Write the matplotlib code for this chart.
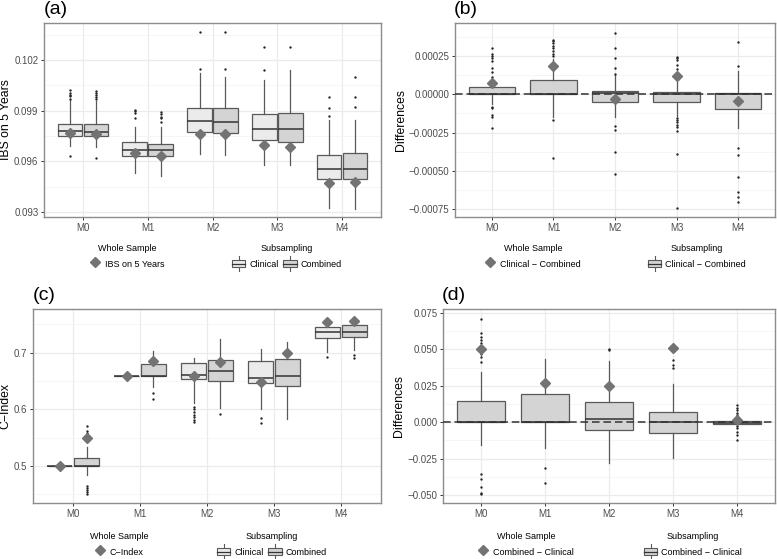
import numpy as np
import matplotlib
matplotlib.use('Agg')
import matplotlib.pyplot as plt
from matplotlib.lines import Line2D
from matplotlib.patches import Rectangle, Patch
from matplotlib.legend_handler import HandlerBase
from matplotlib.ticker import FuncFormatter, MultipleLocator

plt.rcParams['font.family'] = ['Liberation Sans', 'DejaVu Sans']

MODELS = ['M0', 'M1', 'M2', 'M3', 'M4']

# box stats per model: (lower whisker, q1, median, q3, upper whisker)
# (a) IBS on 5 years
ibs_clin_box = [(0.09693, 0.09748, 0.09778, 0.09819, 0.09963),
                (0.09529, 0.09632, 0.09666, 0.09713, 0.09805),
                (0.09643, 0.09776, 0.09839, 0.09916, 0.10125),
                (0.09580, 0.09725, 0.09793, 0.09879, 0.10082),
                (0.09322, 0.09494, 0.09555, 0.09640, 0.09845)]
ibs_clin_out = [[0.10022, 0.10008, 0.09993, 0.09985, 0.09970, 0.09632],
                [0.09906, 0.09898, 0.09884, 0.09855],
                [0.10364, 0.10147],
                [0.10277, 0.10139],
                [0.09983, 0.09914, 0.09869]]
ibs_comb_box = [(0.09683, 0.09748, 0.09775, 0.09819, 0.09960),
                (0.09515, 0.09632, 0.09666, 0.09703, 0.09805),
                (0.09637, 0.09770, 0.09831, 0.09916, 0.10101),
                (0.09580, 0.09714, 0.09793, 0.09886, 0.10141),
                (0.09320, 0.09496, 0.09555, 0.09648, 0.09845)]
ibs_comb_out = [[0.10015, 0.10005, 0.09995, 0.09980, 0.09968, 0.09620],
                [0.09895, 0.09880, 0.09865, 0.09855, 0.09835],
                [0.10364, 0.10147],
                [0.10277],
                [0.10101, 0.09983, 0.09924]]
ibs_whole_clin = [0.09770, 0.09651, 0.09760, 0.09695, 0.09474]
ibs_whole_comb = [0.09760, 0.09630, 0.09760, 0.09685, 0.09480]

# (b) IBS differences, Clinical - Combined
ibs_diff_box = [(-0.000063, 0.0, 0.0, 0.000050, 0.000070),
                (-0.000150, 0.0, 0.0, 0.0000957, 0.000230),
                (-0.000146, -0.000050, 0.000010, 0.000020, 0.000125),
                (-0.000139, -0.000052, 0.000005, 0.000017, 0.000080),
                (-0.000220, -0.000098, 0.000004, 0.000007, 0.000150)]
ibs_diff_out = [[0.000300, 0.000263, 0.000248, 0.000235, 0.000220, 0.000170, 0.000143,
                 0.000115, 0.000089, -0.000080, -0.000091, -0.000135, -0.000150, -0.000222],
                [0.000357, 0.000346, 0.000333, 0.000317, 0.000302, 0.000280, 0.000263,
                 0.000248, -0.000165, -0.000417],
                [0.000398, 0.000300, 0.000235, 0.000172, 0.000135, -0.000209, -0.000233,
                 -0.000378, -0.000524],
                [0.000246, 0.000235, 0.000224, 0.000193, 0.000165, -0.000154, -0.000167,
                 -0.000183, -0.000198, -0.000215, -0.000237, -0.000389, -0.000741],
                [0.000343, 0.000183, -0.000350, -0.000400, -0.000541, -0.000639,
                 -0.000672, -0.000704]]
ibs_diff_whole = [0.000072, 0.000183, -0.000030, 0.000122, -0.000046]

# (c) C-Index
cidx_clin_box = [(0.5, 0.5, 0.5, 0.5, 0.5),
                 (0.6595, 0.6595, 0.6595, 0.6595, 0.6595),
                 (0.6120, 0.6531, 0.6601, 0.6812, 0.6912),
                 (0.6003, 0.6460, 0.6560, 0.6848, 0.7059),
                 (0.7018, 0.7252, 0.7364, 0.7457, 0.7470)]
cidx_clin_out = [[], [],
                 [0.6050, 0.6003, 0.5956, 0.5909, 0.5862, 0.5815, 0.5780],
                 [0.5845, 0.5757],
                 [0.6918]]
cidx_comb_box = [(0.4848, 0.5000, 0.5000, 0.5140, 0.5346),
                 (0.6400, 0.6590, 0.6590, 0.6795, 0.7030),
                 (0.6020, 0.6500, 0.6677, 0.6865, 0.7235),
                 (0.5827, 0.6408, 0.6584, 0.6883, 0.7193),
                 (0.7047, 0.7270, 0.7370, 0.7481, 0.7500)]
cidx_comb_out = [[0.5710, 0.5628, 0.5580, 0.5530, 0.5450, 0.4654, 0.4613, 0.4572, 0.4537, 0.4513],
                 [0.6285, 0.6180],
                 [0.5920],
                 [],
                 [0.6953, 0.6912]]
cidx_whole_clin = [0.5000, 0.6595, 0.6590, 0.6490, 0.7545]
cidx_whole_comb = [0.5490, 0.6853, 0.6842, 0.7000, 0.7557]

# (d) C-Index differences, Combined - Clinical
cidx_diff_box = [(-0.0157, 0.0, 0.0, 0.01435, 0.0344),
                 (-0.0180, 0.0, 0.0, 0.0191, 0.0435),
                 (-0.0282, -0.0057, 0.0025, 0.0139, 0.0417),
                 (-0.0248, -0.0071, 0.0, 0.0073, 0.0264),
                 (-0.0012, -0.0010, -0.0005, 0.0005, 0.0008)]
cidx_diff_out = [[0.0708, 0.0613, 0.0583, 0.0565, 0.0544, 0.0469, 0.0446, 0.0412,
                  -0.0355, -0.0389, -0.0442, -0.0487, -0.0494],
                 [-0.0316, -0.0419],
                 [0.0503, 0.0495],
                 [0.0424, 0.0394, 0.0371],
                 [0.0116, 0.0100, 0.0082, 0.0064, 0.0048, 0.0025, -0.0027, -0.0043,
                  -0.0066, -0.0089, -0.0123]]
cidx_diff_whole = [0.0499, 0.0271, 0.0250, 0.0508, 0.0014]

# colours
CLIN_FILL = '#EBEBEB'
COMB_FILL = '#D4D4D4'
EDGE = '#595959'
DIAM = '#737373'

W, H = 777, 559


def fx(px):
    return px / W


def fy(py):
    return 1 - py / H


def make_stats(box, out):
    return [dict(whislo=b[0], q1=b[1], med=b[2], q3=b[3], whishi=b[4], fliers=o)
            for b, o in zip(box, out)]


def draw_boxes(ax, box, out, pos, width, fill):
    ax.bxp(make_stats(box, out), positions=pos, widths=width, patch_artist=True,
           showcaps=False, manage_ticks=False,
           boxprops=dict(facecolor=fill, edgecolor=EDGE, linewidth=0.9),
           medianprops=dict(color='#333333', linewidth=1.1),
           whiskerprops=dict(color=EDGE, linewidth=0.9),
           flierprops=dict(marker='o', markersize=1.7, markerfacecolor='#222222',
                           markeredgecolor='none'))


def style_axes(ax, ylim, step, fmt, ylabel):
    ax.set_xlim(-0.6, 4.6)
    ax.set_ylim(*ylim)
    ax.set_xticks(range(len(MODELS)))
    ax.set_xticklabels(MODELS)
    ax.yaxis.set_major_locator(MultipleLocator(step))
    ax.yaxis.set_minor_locator(MultipleLocator(step / 2))
    ax.yaxis.set_major_formatter(FuncFormatter(lambda v, p: (fmt % v).replace('-', '\u2212')))
    ax.grid(which='major', color='#EBEBEB', linewidth=0.9)
    ax.grid(which='minor', axis='y', color='#F3F3F3', linewidth=0.5)
    ax.set_axisbelow(True)
    ax.tick_params(which='major', length=2.5, width=0.7, color='#333333',
                   labelsize=7, labelcolor='#4D4D4D', pad=1.5)
    ax.tick_params(which='minor', length=0)
    for s in ax.spines.values():
        s.set_color('#8C8C8C')
        s.set_linewidth(1.0)
    ax.set_ylabel(ylabel, fontsize=8.8, labelpad=1.5)


class BoxKey(HandlerBase):
    def create_artists(self, legend, orig_handle, xdescent, ydescent, width, height,
                       fontsize, trans):
        x0, y0 = -xdescent, -ydescent
        h = height * 1.25
        y0 = y0 - (h - height) / 2
        rect = Rectangle((x0, y0 + 0.25 * h), width, 0.5 * h,
                         facecolor=orig_handle.get_facecolor(), edgecolor=EDGE, lw=0.8,
                         transform=trans)
        med = Line2D([x0, x0 + width], [y0 + 0.5 * h] * 2, color='#333333', lw=0.9,
                     transform=trans)
        w1 = Line2D([x0 + width / 2] * 2, [y0, y0 + 0.25 * h], color=EDGE, lw=0.8,
                    transform=trans)
        w2 = Line2D([x0 + width / 2] * 2, [y0 + 0.75 * h, y0 + h], color=EDGE, lw=0.8,
                    transform=trans)
        return [w1, w2, rect, med]


def add_legends(fig, yt, whole_x, whole_label, sub_x, sub_labels, sub_fills):
    whole_h = [Line2D([], [], marker='D', color=DIAM, linestyle='none', markersize=5)]
    fig.legend(whole_h, [whole_label], title='Whole Sample', loc='upper center',
               bbox_to_anchor=(fx(whole_x), fy(yt)), frameon=False, fontsize=6.5,
               title_fontsize=6.5, handlelength=1.2, handletextpad=0.5,
               borderpad=0.1, handleheight=1.6)
    sub_h = [Patch(facecolor=f) for f in sub_fills]
    fig.legend(sub_h, sub_labels, title='Subsampling', loc='upper center',
               bbox_to_anchor=(fx(sub_x), fy(yt)), frameon=False, fontsize=6.5,
               title_fontsize=6.5, ncol=len(sub_h), handlelength=1.5,
               handleheight=1.6, handletextpad=0.45, columnspacing=0.5, borderpad=0.1,
               handler_map={Patch: BoxKey()})


fig = plt.figure(figsize=(W / 100, H / 100), dpi=100)
pos = np.arange(len(MODELS))
off = 0.2
bw = 0.38

# (a)
ax_a = fig.add_axes([fx(44), fy(217), fx(381 - 44), (217 - 23) / H])
draw_boxes(ax_a, ibs_clin_box, ibs_clin_out, pos - off, bw, CLIN_FILL)
draw_boxes(ax_a, ibs_comb_box, ibs_comb_out, pos + off, bw, COMB_FILL)
ax_a.plot(pos - off, ibs_whole_clin, 'D', color=DIAM, markersize=5.5, zorder=4)
ax_a.plot(pos + off, ibs_whole_comb, 'D', color=DIAM, markersize=5.5, zorder=4)
style_axes(ax_a, (0.0927, 0.1042), 0.003, '%.3f', 'IBS on 5 Years')

# (b)
ax_b = fig.add_axes([fx(455), fy(217), fx(775 - 455), (217 - 23) / H])
draw_boxes(ax_b, ibs_diff_box, ibs_diff_out, pos, 0.75, COMB_FILL)
ax_b.axhline(0, color='#333333', linestyle=(0, (5, 2.5)), linewidth=1.1, zorder=3)
ax_b.plot(pos, ibs_diff_whole, 'D', color=DIAM, markersize=5.5, zorder=4)
style_axes(ax_b, (-0.000802, 0.000466), 0.00025, '%.5f', 'Differences')

# (c)
ax_c = fig.add_axes([fx(33), fy(503), fx(381 - 33), (503 - 309) / H])
draw_boxes(ax_c, cidx_clin_box, cidx_clin_out, pos - off, bw, CLIN_FILL)
draw_boxes(ax_c, cidx_comb_box, cidx_comb_out, pos + off, bw, COMB_FILL)
ax_c.plot(pos - off, cidx_whole_clin, 'D', color=DIAM, markersize=5.5, zorder=4)
ax_c.plot(pos + off, cidx_whole_comb, 'D', color=DIAM, markersize=5.5, zorder=4)
style_axes(ax_c, (0.435, 0.777), 0.1, '%.1f', 'C\u2212Index')

# (d)
ax_d = fig.add_axes([fx(443), fy(503), fx(775 - 443), (503 - 309) / H])
draw_boxes(ax_d, cidx_diff_box, cidx_diff_out, pos, 0.75, COMB_FILL)
ax_d.axhline(0, color='#333333', linestyle=(0, (5, 2.5)), linewidth=1.1, zorder=3)
ax_d.plot(pos, cidx_diff_whole, 'D', color=DIAM, markersize=5.5, zorder=4)
style_axes(ax_d, (-0.0555, 0.0777), 0.025, '%.3f', 'Differences')

# panel tags
for tag, x, y in [('(a)', 44, 1), ('(b)', 454, 1), ('(c)', 33, 287), ('(d)', 442, 287)]:
    fig.text(fx(x), fy(y), tag, fontsize=14, va='top', ha='left')

add_legends(fig, 239, 127, 'IBS on 5 Years', 287, ['Clinical', 'Combined'],
            [CLIN_FILL, COMB_FILL])
add_legends(fig, 239, 533, 'Clinical \u2212 Combined', 697, ['Clinical \u2212 Combined'],
            [COMB_FILL])
add_legends(fig, 527, 119, 'C\u2212Index', 272, ['Clinical', 'Combined'],
            [CLIN_FILL, COMB_FILL])
add_legends(fig, 527, 526, 'Combined \u2212 Clinical', 693, ['Combined \u2212 Clinical'],
            [COMB_FILL])

fig.savefig('out.png', dpi=100)
